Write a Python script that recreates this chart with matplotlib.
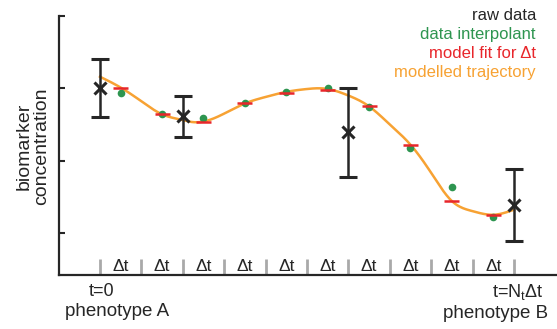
import numpy as np
import matplotlib
matplotlib.use("Agg")
import matplotlib.pyplot as plt
from matplotlib.transforms import blended_transform_factory

plt.rcParams['font.family'] = ['Liberation Sans', 'DejaVu Sans']
plt.rcParams['mathtext.fontset'] = 'custom'
plt.rcParams['mathtext.rm'] = 'Liberation Sans'
plt.rcParams['mathtext.it'] = 'Liberation Sans'

# ---- data ----
raw_t = [0, 2, 6, 10]
raw_y = [3.00, 2.61, 2.39, 1.39]
raw_err = [0.40, 0.29, 0.62, 0.50]

mid_t = [0.5, 1.5, 2.5, 3.5, 4.5, 5.5, 6.5, 7.5, 8.5, 9.5]
interp_y = [2.93, 2.65, 2.59, 2.79, 2.95, 3.00, 2.74, 2.17, 1.64, 1.22]
fit_y = [3.01, 2.64, 2.54, 2.79, 2.94, 2.98, 2.75, 2.22, 1.44, 1.25]

traj_t = [0, 0.5, 1, 1.5, 2, 2.2, 2.5, 3, 3.5, 4, 4.5, 5, 5.3, 5.5, 6, 6.5, 7, 7.5, 8, 8.5, 9, 9.5, 10]
traj_y = [3.16, 3.01, 2.82, 2.64, 2.56, 2.535, 2.54, 2.65, 2.79, 2.88, 2.95, 2.99, 3.0, 2.99, 2.90, 2.75, 2.50, 2.22, 1.83, 1.44, 1.30, 1.25, 1.32]

yticks = [1, 2, 3, 4]
seg_label = "Δt"
legend_labels = ["raw data", "data interpolant", "model fit for Δt", "modelled trajectory"]

# ---- colours ----
C_BLACK = "#262626"
C_GREEN = "#2e9550"
C_RED = "#e8262b"
C_ORANGE = "#f7a233"
C_GREY = "#a9a9a9"


def natural_spline(x, y, xs):
    x = np.asarray(x, float); y = np.asarray(y, float)
    n = len(x)
    h = np.diff(x)
    A = np.zeros((n, n)); b = np.zeros(n)
    A[0, 0] = A[-1, -1] = 1
    for i in range(1, n - 1):
        A[i, i - 1] = h[i - 1]
        A[i, i] = 2 * (h[i - 1] + h[i])
        A[i, i + 1] = h[i]
        b[i] = 3 * ((y[i + 1] - y[i]) / h[i] - (y[i] - y[i - 1]) / h[i - 1])
    c = np.linalg.solve(A, b)
    bb = (y[1:] - y[:-1]) / h - h * (2 * c[:-1] + c[1:]) / 3
    d = (c[1:] - c[:-1]) / (3 * h)
    idx = np.clip(np.searchsorted(x, xs) - 1, 0, n - 2)
    dx = xs - x[idx]
    return y[idx] + bb[idx] * dx + c[idx] * dx ** 2 + d[idx] * dx ** 3


W, H = 557, 329
fig = plt.figure(figsize=(W / 100, H / 100), dpi=100)
ax = fig.add_axes([59 / W, (H - 275) / H, (557 - 59) / W, (275 - 16) / H])

ax.set_xlim(-0.99, 11.04)
ax.set_ylim(0.417, 4.0)

# modelled trajectory
ts = np.linspace(traj_t[0], traj_t[-1], 400)
ax.plot(ts, natural_spline(traj_t, traj_y, ts), color=C_ORANGE, lw=1.8, zorder=2)

# model fit dashes
ax.hlines(fit_y, np.array(mid_t) - 0.18, np.array(mid_t) + 0.18, color=C_RED, lw=1.8, zorder=3)

# data interpolant
ax.plot(mid_t, interp_y, 'o', color=C_GREEN, ms=5.5, mec='none', zorder=2.5)

# raw data
ax.errorbar(raw_t, raw_y, yerr=raw_err, fmt='x', color=C_BLACK, ms=8, mew=2.2,
            elinewidth=1.8, capsize=6.5, capthick=1.8, zorder=4)

# segment separators and labels
tr = blended_transform_factory(ax.transData, ax.transAxes)
for k in range(len(mid_t) + 1):
    ax.plot([k, k], [0, 0.062], transform=tr, color=C_GREY, lw=2.0, solid_capstyle='butt', zorder=1)
for m in mid_t:
    ax.text(m, 0.031, seg_label, transform=tr, ha='center', va='center', fontsize=12.5, color=C_BLACK)

# axes styling
for s in ['top', 'right']:
    ax.spines[s].set_visible(False)
for s in ['left', 'bottom']:
    ax.spines[s].set_linewidth(1.6)
    ax.spines[s].set_color(C_BLACK)
ax.set_xticks([])
ax.set_yticks(yticks)
ax.set_yticklabels([])
ax.tick_params(axis='y', direction='in', length=4, width=1.5, color=C_BLACK)

# y label
fig.text(33 / W, 1 - 146 / H, "biomarker\nconcentration", rotation=90, ha='center', va='center',
         multialignment='center', fontsize=14, color=C_BLACK, linespacing=1.0)

# bottom labels
fig.text(102 / W, 1 - 291 / H, "t=0", ha='center', va='center', fontsize=13, color=C_BLACK)
fig.text(65 / W, 1 - 312 / H, "phenotype A", ha='left', va='center', fontsize=13.5, color=C_BLACK)
fig.text(544 / W, 1 - 292 / H, r"t=N$_\mathregular{t}$Δt", ha='right', va='center', fontsize=13, color=C_BLACK)
fig.text(548 / W, 1 - 313 / H, "phenotype B", ha='right', va='center', fontsize=13.5, color=C_BLACK)

# legend-like text
leg_colors = [C_BLACK, C_GREEN, C_RED, C_ORANGE]
leg_y = [15, 34, 53, 72]
for lab, col, yy in zip(legend_labels, leg_colors, leg_y):
    fig.text(536 / W, 1 - yy / H, lab, ha='right', va='center', fontsize=12, color=col)

fig.savefig("out.png", dpi=100, facecolor='white')
